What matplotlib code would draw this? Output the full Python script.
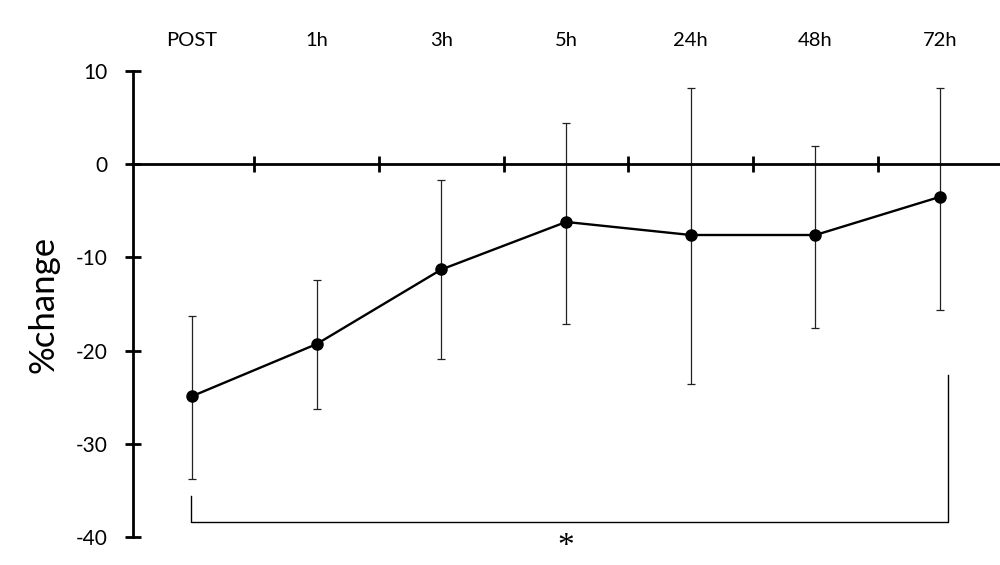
import matplotlib.pyplot as plt
import numpy as np

plt.rcParams['font.family'] = ['Lato', 'DejaVu Sans']
plt.rcParams['axes.unicode_minus'] = False

labels = ['POST', '1h', '3h', '5h', '24h', '48h', '72h']
mean = [-24.9, -19.3, -11.3, -6.2, -7.6, -7.6, -3.5]
err_hi = [-16.3, -12.4, -1.7, 4.4, 8.2, 2.0, 8.2]
err_lo = [-33.8, -26.3, -20.9, -17.2, -23.6, -17.6, -15.6]

x = np.arange(len(labels))
mean = np.array(mean)
yerr = [mean - np.array(err_lo), np.array(err_hi) - mean]

fig = plt.figure(figsize=(10, 5.65), dpi=100)
ax = fig.add_axes([0.133, 0.0496, 0.867, 0.8248])

ax.errorbar(x, mean, yerr=yerr, fmt='none', ecolor='#222222', elinewidth=0.9,
            capsize=3, capthick=0.9, zorder=2)
ax.plot(x, mean, color='black', lw=1.7, marker='o', markersize=8, zorder=3)

ax.set_xlim(-0.473, 6.48)
ax.set_ylim(-40, 10)

# spines: left axis and a horizontal axis through zero
for s in ['top', 'right']:
    ax.spines[s].set_visible(False)
ax.spines['bottom'].set_position(('data', 0))
ax.spines['bottom'].set_linewidth(2)
ax.spines['left'].set_linewidth(2)

ax.set_yticks([10, 0, -10, -20, -30, -40])
ax.tick_params(axis='y', direction='inout', length=12, width=2, labelsize=15, pad=12)

ax.set_xticks(x)
ax.set_xticklabels(labels)
ax.set_xticks(x[:-1] + 0.5, minor=True)
ax.tick_params(axis='x', which='major', bottom=False, top=False,
               labelbottom=False, labeltop=True, labelsize=14.5, pad=12)
ax.tick_params(axis='x', which='minor', bottom=True, top=False,
               direction='inout', length=12, width=2)

ax.set_ylabel('%change', fontsize=25, labelpad=12)

# significance bracket POST vs 72h
ax.plot([-0.01, -0.01, 6.06, 6.06], [-35.6, -38.4, -38.4, -22.6],
        color='black', lw=1, clip_on=False)
ax.text(3.0, -41.0, '*', ha='center', va='center', fontsize=24,
        family='Liberation Serif', clip_on=False)

fig.savefig('out.png', dpi=100)
